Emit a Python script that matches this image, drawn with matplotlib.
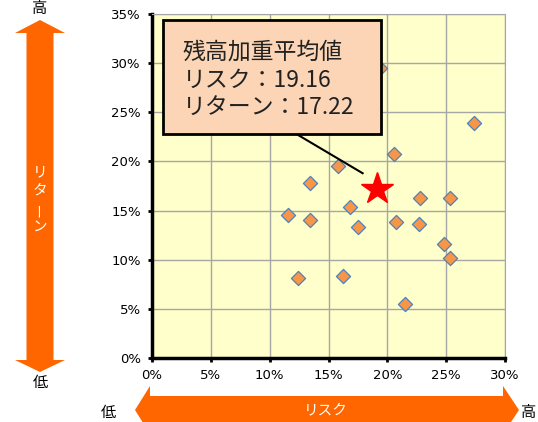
"""Risk/return scatter with weighted-average marker."""

import matplotlib

matplotlib.use("Agg")
import matplotlib.pyplot as plt
from matplotlib.patches import Polygon, Rectangle
from matplotlib.ticker import FuncFormatter, MultipleLocator

JP = ["Noto Sans CJK JP", "DejaVu Sans"]
ORANGE = "#FF6600"

# fund risk / return (%)
risk = [19.4, 27.4, 20.6, 15.8, 13.4, 22.8, 25.3, 16.8, 11.6, 13.4,
        17.5, 20.7, 22.7, 24.8, 25.3, 12.4, 16.2, 21.5]
ret = [29.5, 23.9, 20.8, 19.5, 17.8, 16.25, 16.25, 15.4, 14.5, 14.0,
       13.3, 13.8, 13.6, 11.6, 10.2, 8.1, 8.3, 5.5]

avg_risk = 19.16
avg_ret = 17.22

W, H = 538, 422
fig = plt.figure(figsize=(W / 100, H / 100), dpi=100)
ax = fig.add_axes([152 / W, 1 - 358 / H, (505 - 152) / W, (358 - 14) / H])
ax.set_facecolor("#FFFFCC")

ax.set_xlim(0, 30)
ax.set_ylim(0, 35)
ax.xaxis.set_major_locator(MultipleLocator(5))
ax.yaxis.set_major_locator(MultipleLocator(5))
pct = FuncFormatter(lambda v, _: f"{v:.0f}%")
ax.xaxis.set_major_formatter(pct)
ax.yaxis.set_major_formatter(pct)
ax.grid(True, color="#A6A6A6", linewidth=1)
ax.set_axisbelow(True)
for side in ("top", "right"):
    ax.spines[side].set_color("#A6A6A6")
for side in ("left", "bottom"):
    ax.spines[side].set_color("black")
    ax.spines[side].set_linewidth(2.5)
ax.tick_params(length=3, width=2, colors="black", labelsize=9.5, pad=5)

ax.scatter(risk, ret, marker="D", s=52, facecolor="#F79646",
           edgecolor="#4F81BD", linewidth=0.9, zorder=3)
ax.plot([avg_risk], [avg_ret], marker="*", markersize=24, color="red",
        linestyle="none", zorder=4)

# callout box
ax.add_patch(Rectangle((0.94, 22.8), 18.5, 11.6, facecolor="#FBD5B5",
                       edgecolor="black", linewidth=2, zorder=5))
ax.plot([12.4, 17.9], [22.7, 18.8], color="black", linewidth=1.5, zorder=5)
box_lines = ["残高加重平均値", f"リスク：{avg_risk:.2f}", f"リターン：{avg_ret:.2f}"]
for line, y in zip(box_lines, [31.1, 28.25, 25.35]):
    ax.text(2.6, y, line, family=JP, fontsize=16.5, color="#222222",
            va="center", ha="left", zorder=6)


def px(points):
    return [(x / W, 1 - y / H) for x, y in points]


# vertical return arrow
cx = 40
fig.patches.append(Polygon(px([
    (cx, 20), (cx + 25, 33), (cx + 13.5, 33), (cx + 13.5, 360), (cx + 25, 360),
    (cx, 372), (cx - 25, 360), (cx - 13.5, 360), (cx - 13.5, 33), (cx - 25, 33),
]), closed=True, facecolor=ORANGE, edgecolor="none", transform=fig.transFigure))
for ch, y, rot in [("リ", 172, 0), ("タ", 191, 0), ("ー", 210, 90), ("ン", 227, 0)]:
    fig.text(cx / W, 1 - y / H, ch, family=JP, fontsize=10.5, color="white",
             ha="center", va="center", rotation=rot)
fig.text(cx / W, 1 - 9 / H, "高", family=JP, fontsize=11, ha="center", va="center")
fig.text(cx / W, 1 - 382 / H, "低", family=JP, fontsize=11, ha="center", va="center")

# horizontal risk arrow
cy = 410
fig.patches.append(Polygon(px([
    (135, cy), (150, cy - 24), (150, cy - 14), (503, cy - 14), (503, cy - 24),
    (519, cy), (503, cy + 24), (503, cy + 14), (150, cy + 14), (150, cy + 24),
]), closed=True, facecolor=ORANGE, edgecolor="none", transform=fig.transFigure))
fig.text(326 / W, 1 - 410 / H, "リスク", family=JP, fontsize=10.5, color="white",
         ha="center", va="center")
fig.text(108 / W, 1 - 413 / H, "低", family=JP, fontsize=11, ha="center", va="center")
fig.text(529 / W, 1 - 413 / H, "高", family=JP, fontsize=11, ha="center", va="center")

fig.savefig("out.png", dpi=100)
